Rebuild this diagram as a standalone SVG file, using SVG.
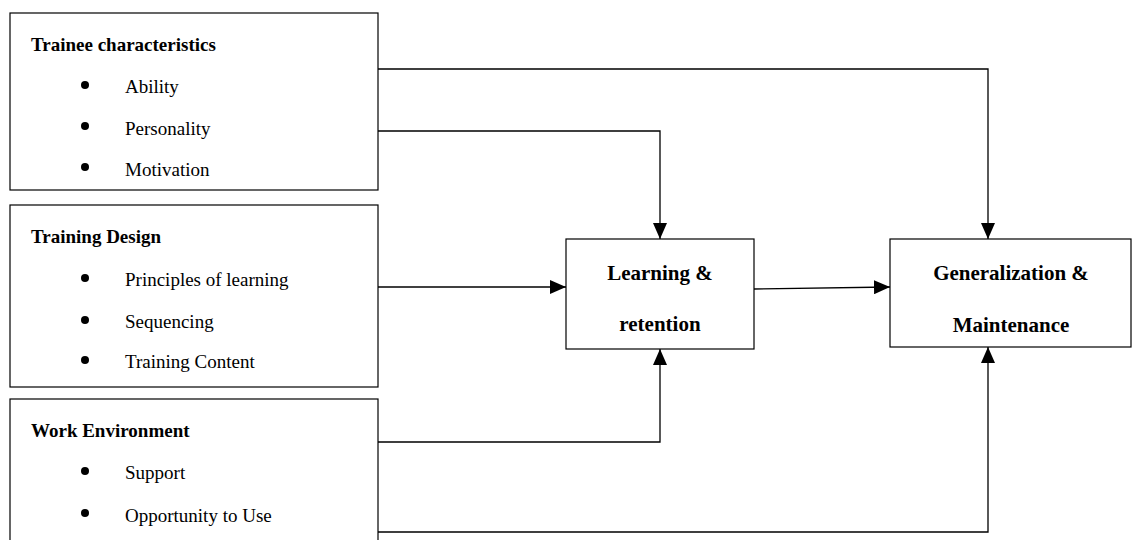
<svg xmlns="http://www.w3.org/2000/svg" width="1133" height="540" viewBox="0 0 1133 540">
<style>
.box{fill:#fff;stroke:#000;stroke-width:1.2}
.t{font-family:"Liberation Serif","Times New Roman",serif;fill:#000}
.title{font-size:19px;font-weight:bold}
.item{font-size:19px}
.main{font-size:21px;font-weight:bold;text-anchor:middle}
.conn{fill:none;stroke:#000;stroke-width:1.3}
</style>
<defs>
<marker id="ah" markerWidth="16" markerHeight="14" refX="16" refY="7" orient="auto" markerUnits="userSpaceOnUse">
<path d="M0,0 L16,7 L0,14 Z" fill="#000"/>
</marker>
</defs>
<rect width="1133" height="540" fill="#fff"/>
<g id="trainee">
<rect class="box" x="10" y="13" width="368" height="177"/>
<text class="t title" x="31" y="51">Trainee characteristics</text>
<circle cx="85" cy="85" r="4"/>
<text class="t item" x="125" y="93">Ability</text>
<circle cx="85" cy="126" r="4"/>
<text class="t item" x="125" y="135">Personality</text>
<circle cx="85" cy="167" r="4"/>
<text class="t item" x="125" y="176">Motivation</text>
</g>
<g id="design">
<rect class="box" x="10" y="205" width="368" height="182"/>
<text class="t title" x="31" y="243">Training Design</text>
<circle cx="85" cy="278" r="4"/>
<text class="t item" x="125" y="286">Principles of learning</text>
<circle cx="85" cy="320" r="4"/>
<text class="t item" x="125" y="328">Sequencing</text>
<circle cx="85" cy="360" r="4"/>
<text class="t item" x="125" y="368">Training Content</text>
</g>
<g id="environment">
<rect class="box" x="10" y="399" width="368" height="150"/>
<text class="t title" x="31" y="437">Work Environment</text>
<circle cx="85" cy="471" r="4"/>
<text class="t item" x="125" y="479">Support</text>
<circle cx="85" cy="513" r="4"/>
<text class="t item" x="125" y="522">Opportunity to Use</text>
</g>
<g id="learning">
<rect class="box" x="566" y="239" width="188" height="110"/>
<text class="t main" x="660" y="280">Learning &amp;</text>
<text class="t main" x="660" y="331">retention</text>
</g>
<g id="generalization">
<rect class="box" x="890" y="239" width="241" height="108"/>
<text class="t main" x="1011" y="280">Generalization &amp;</text>
<text class="t main" x="1011" y="332">Maintenance</text>
</g>
<g id="connectors">
<path class="conn" d="M378,69 H988 V239" marker-end="url(#ah)"/>
<path class="conn" d="M378,131 H660 V239" marker-end="url(#ah)"/>
<path class="conn" d="M378,287 H566" marker-end="url(#ah)"/>
<path class="conn" d="M754,289 L890,287" marker-end="url(#ah)"/>
<path class="conn" d="M378,442 H660 V349" marker-end="url(#ah)"/>
<path class="conn" d="M378,532 H988 V347" marker-end="url(#ah)"/>
</g>
</svg>
